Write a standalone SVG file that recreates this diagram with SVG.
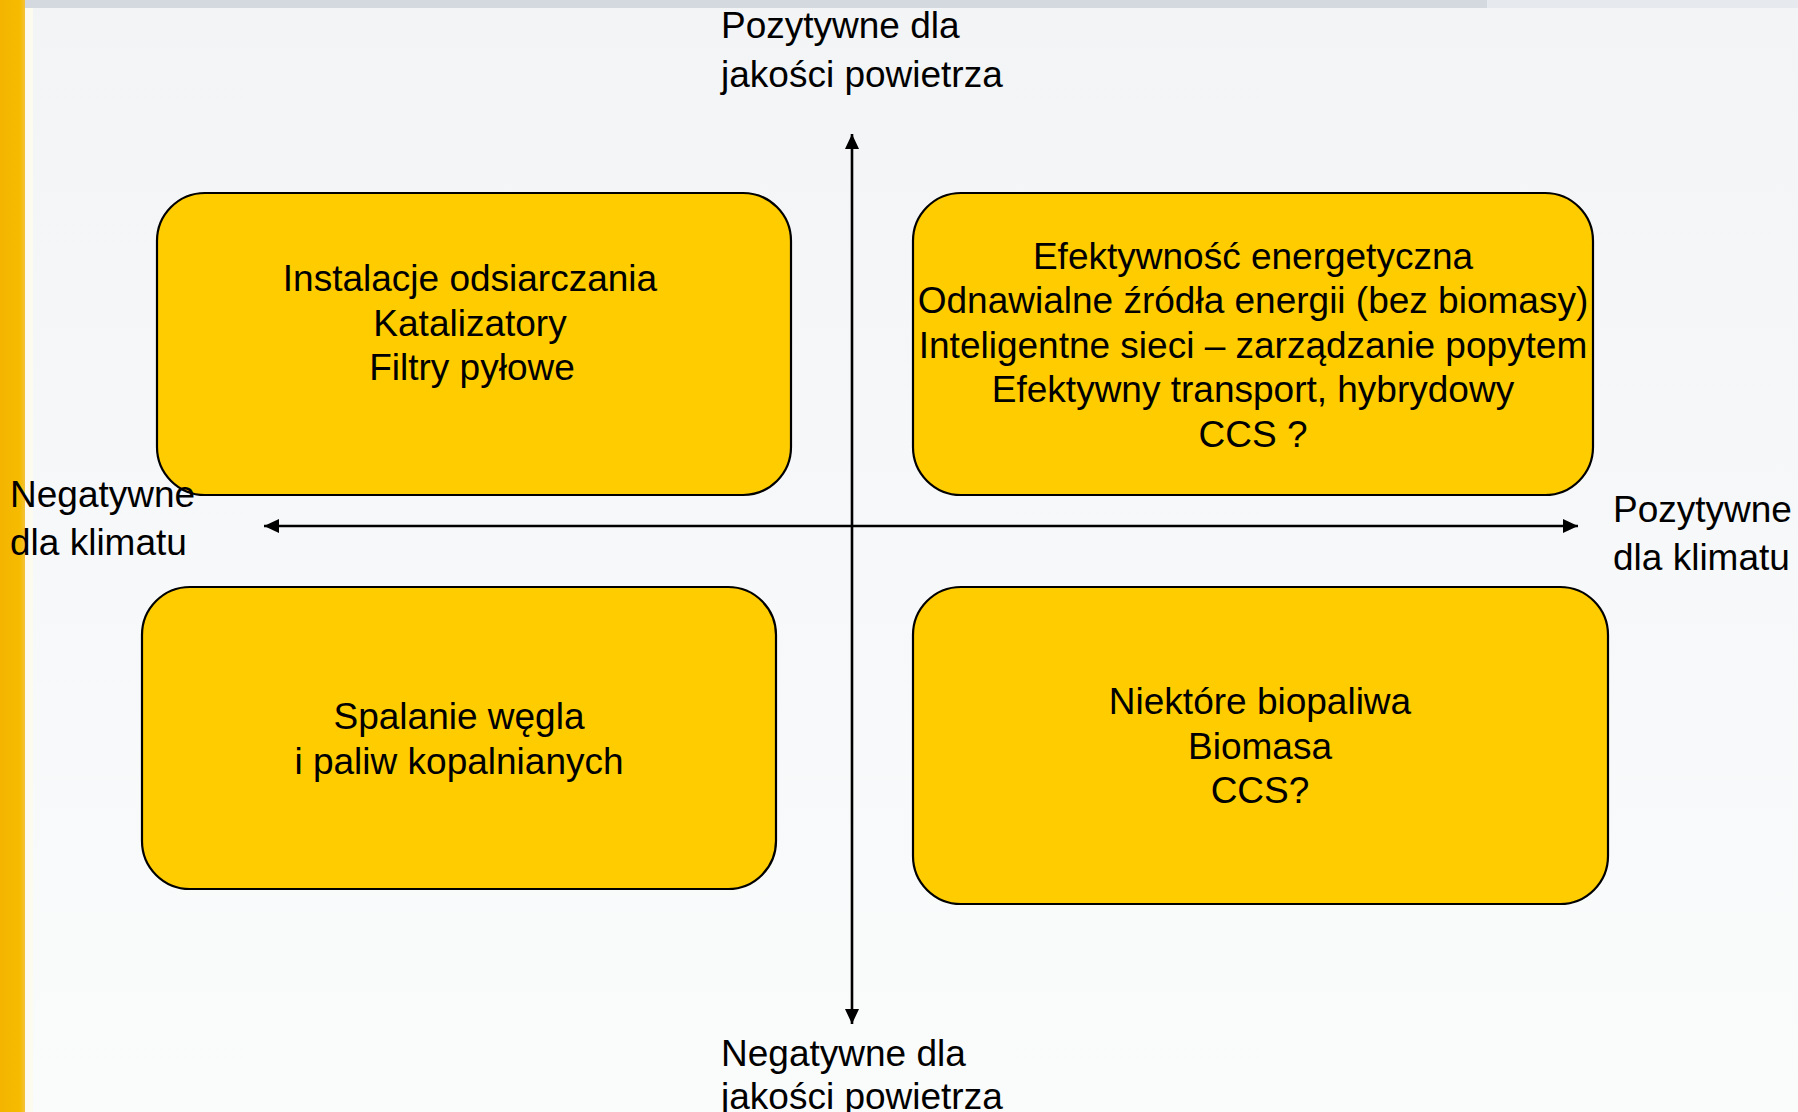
<svg xmlns="http://www.w3.org/2000/svg" width="1798" height="1112" viewBox="0 0 1798 1112">
<style>
  .box { fill: #FFCC00; stroke: #000; stroke-width: 2.2; }
  .t { font-family: "Liberation Sans", Arial, sans-serif; font-size: 37px; fill: #000; }
  .c { text-anchor: middle; }
  .axis { stroke: #000; stroke-width: 2.6; fill: none; }
</style>
<defs>
  <marker id="ah" markerUnits="userSpaceOnUse" markerWidth="16" markerHeight="14" refX="15" refY="7" orient="auto-start-reverse">
    <path d="M0,0 L15,7 L0,14 z" fill="#000"/>
  </marker>
  <linearGradient id="bg" x1="0" y1="0" x2="0" y2="1">
    <stop offset="0" stop-color="#F3F4F6"/>
    <stop offset="0.5" stop-color="#F7F8F9"/>
    <stop offset="1" stop-color="#FAFBFB"/>
  </linearGradient>
  <linearGradient id="bar" x1="0" y1="0" x2="1" y2="0">
    <stop offset="0" stop-color="#F4B400"/>
    <stop offset="0.8" stop-color="#F6BC00"/>
    <stop offset="1" stop-color="#F3C23A"/>
  </linearGradient>
</defs>
<rect x="0" y="0" width="1798" height="1112" fill="url(#bg)"/>
<rect x="0" y="0" width="1487" height="8" fill="#D4D9E0"/>
<rect x="1487" y="0" width="311" height="8" fill="#E6E9ED"/>
<rect x="24" y="8" width="9" height="1104" fill="#FDFBF0"/>
<rect x="0" y="0" width="25" height="1112" fill="url(#bar)"/>

<g id="box-top-left">
  <rect class="box" x="157" y="193" width="634" height="302" rx="48" ry="48"/>
  <text class="t c" x="470" y="291">Instalacje odsiarczania</text>
  <text class="t c" x="470" y="336">Katalizatory</text>
  <text class="t c" x="472" y="380">Filtry pyłowe</text>
</g>
<g id="box-top-right">
  <rect class="box" x="913" y="193" width="680" height="302" rx="48" ry="48"/>
  <text class="t c" x="1253" y="269">Efektywność energetyczna</text>
  <text class="t c" x="1253" y="313">Odnawialne źródła energii (bez biomasy)</text>
  <text class="t c" x="1253" y="358">Inteligentne sieci – zarządzanie popytem</text>
  <text class="t c" x="1253" y="402">Efektywny transport, hybrydowy</text>
  <text class="t c" x="1253" y="447">CCS ?</text>
</g>
<g id="box-bottom-left">
  <rect class="box" x="142" y="587" width="634" height="302" rx="48" ry="48"/>
  <text class="t c" x="459" y="729">Spalanie węgla</text>
  <text class="t c" x="459" y="774">i paliw kopalnianych</text>
</g>
<g id="box-bottom-right">
  <rect class="box" x="913" y="587" width="695" height="317" rx="48" ry="48"/>
  <text class="t c" x="1260" y="714">Niektóre biopaliwa</text>
  <text class="t c" x="1260" y="759">Biomasa</text>
  <text class="t c" x="1260" y="803">CCS?</text>
</g>

<g id="connectors">
  <line class="axis" x1="852" y1="1024" x2="852" y2="134" marker-start="url(#ah)" marker-end="url(#ah)"/>
  <line class="axis" x1="264" y1="526" x2="1578" y2="526" marker-start="url(#ah)" marker-end="url(#ah)"/>
</g>

<g id="label-top">
  <text class="t" x="721" y="38">Pozytywne dla</text>
  <text class="t" x="721" y="87">jakości powietrza</text>
</g>
<g id="label-bottom">
  <text class="t" x="721" y="1066">Negatywne dla</text>
  <text class="t" x="721" y="1109">jakości powietrza</text>
</g>
<g id="label-left">
  <text class="t" x="10" y="507">Negatywne</text>
  <text class="t" x="10" y="555">dla klimatu</text>
</g>
<g id="label-right">
  <text class="t" x="1613" y="522">Pozytywne</text>
  <text class="t" x="1613" y="570">dla klimatu</text>
</g>
</svg>
